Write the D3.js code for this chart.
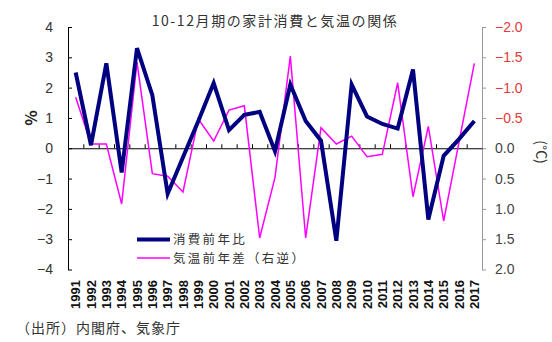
<!DOCTYPE html>
<html>
<head>
<meta charset="utf-8">
<script src="https://cdn.jsdelivr.net/npm/d3@7"></script>
<style>
  body { margin: 0; background: #fff; }
  svg { display: block; }
  text { font-family: "Noto Sans CJK JP", "Noto Sans", sans-serif; }
</style>
</head>
<body>
<svg id="chart" width="552" height="342"></svg>
<script>
const years = ["1991","1992","1993","1994","1995","1996","1997","1998","1999","2000",
  "2001","2002","2003","2004","2005","2006","2007","2008","2009","2010",
  "2011","2012","2013","2014","2015","2016","2017"];
const consumption = [2.5, 0.1, 2.8, -0.8, 3.3, 1.75, -1.5, -0.3, 0.9, 2.15,
  0.6, 1.1, 1.2, -0.1, 2.1, 0.9, 0.25, -3.05, 2.1, 1.05,
  0.8, 0.65, 2.6, -2.35, -0.25, 0.3, 0.9];
const temperature = [-0.84, -0.07, -0.07, 0.92, -1.42, 0.42, 0.46, 0.72, -0.48, -0.12,
  -0.63, -0.7, 1.48, 0.48, -1.52, 1.48, -0.34, -0.07, -0.2, 0.14,
  0.1, -1.08, 0.8, -0.36, 1.2, -0.1, -1.4];
const leftTicks = [4, 3, 2, 1, 0, -1, -2, -3, -4];
const rightTicks = [-2.0, -1.5, -1.0, -0.5, 0.0, 0.5, 1.0, 1.5, 2.0];
const title = "10-12月期の家計消費と気温の関係";
const seriesNames = ["消費前年比", "気温前年差（右逆）"];
const source = "（出所）内閣府、気象庁";

const svg = d3.select("#chart");
const L = 68, R = 482, T = 27, B = 269.5;

const x = d3.scaleBand().domain(years).range([L, R]);
const xi = d3.scaleLinear().domain([0, years.length]).range([L, R]);
const yL = d3.scaleLinear().domain([-4, 4]).range([B, T]);
const yR = d3.scaleLinear().domain([2, -2]).range([B, T]);
const cx = d => x(d) + x.bandwidth() / 2;

// title
svg.append("text").attr("x", 275).attr("y", 26).attr("text-anchor", "middle")
  .style("font-size", "14px").style("letter-spacing", "1.6px").attr("fill", "#333")
  .text(title);

// left axis (ticks inward)
const gl = svg.append("g").attr("transform", `translate(${L},0)`)
  .call(d3.axisLeft(yL).tickValues(leftTicks).tickSizeInner(-4).tickSizeOuter(0)
    .tickPadding(15).tickFormat(d => d < 0 ? "−" + Math.abs(d) : String(d)));
gl.select(".domain").attr("stroke", "#000");
gl.selectAll(".tick line").attr("stroke", "#000");
gl.selectAll(".tick text").style("font-size", "14px").attr("fill", "#333")
  .style("font-family", "'Liberation Sans', Arial, sans-serif");

// right axis
const gr = svg.append("g").attr("transform", `translate(${R},0)`)
  .call(d3.axisRight(yR).tickValues(rightTicks).tickSizeInner(4).tickSizeOuter(0)
    .tickPadding(9).tickFormat(d => d < 0 ? "−" + Math.abs(d).toFixed(1) : d.toFixed(1)));
gr.select(".domain").attr("stroke", "#999");
gr.selectAll(".tick line").attr("stroke", "#999");
gr.selectAll(".tick text").style("font-size", "14px")
  .style("font-family", "'Liberation Sans', Arial, sans-serif")
  .attr("fill", d => d < 0 ? "#e03a3a" : "#444");

// zero line with category ticks pointing up
const gx = svg.append("g").attr("transform", `translate(0,${yL(0)})`)
  .call(d3.axisTop(xi).tickValues(d3.range(1, years.length)).tickSizeInner(4)
    .tickSizeOuter(0).tickFormat(""));
gx.select(".domain").attr("stroke", "#000");
gx.selectAll(".tick line").attr("stroke", "#000");

// year labels
svg.append("g").selectAll("text").data(years).join("text")
  .attr("transform", d => `translate(${cx(d)},280) rotate(-90)`)
  .attr("dy", "0.36em").attr("text-anchor", "end")
  .style("font-size", "13px").style("font-weight", "bold")
  .style("font-family", "'Liberation Sans', Arial, sans-serif")
  .attr("fill", "#111").text(d => d);

// axis titles
svg.append("text").attr("transform", "translate(31,118) rotate(-90)")
  .attr("text-anchor", "middle").attr("dy", "0.35em")
  .style("font-size", "16px").style("font-weight", "bold").attr("fill", "#222").text("%");
svg.append("text").attr("transform", "translate(541,152) rotate(90)")
  .attr("text-anchor", "middle").attr("dy", "0.35em")
  .style("font-size", "14px").attr("fill", "#333").text("(°C)");

// lines
const lineL = d3.line().x((d, i) => cx(years[i])).y(d => yL(d));
const lineR = d3.line().x((d, i) => cx(years[i])).y(d => yR(d));
svg.append("path").datum(temperature).attr("d", lineR)
  .attr("fill", "none").attr("stroke", "#ff00ff").attr("stroke-width", 1.5)
  .attr("stroke-linejoin", "miter");
svg.append("path").datum(consumption).attr("d", lineL)
  .attr("fill", "none").attr("stroke", "#000080").attr("stroke-width", 4)
  .attr("stroke-linejoin", "miter");

// legend
const legend = svg.append("g");
const lg = [{name: seriesNames[0], color: "#000080", w: 4, y: 239.5},
            {name: seriesNames[1], color: "#ff00ff", w: 1.5, y: 258}];
lg.forEach(s => {
  legend.append("line").attr("x1", 137).attr("x2", 170).attr("y1", s.y).attr("y2", s.y)
    .attr("stroke", s.color).attr("stroke-width", s.w);
  legend.append("text").attr("x", 173).attr("y", s.y).attr("dy", "0.36em")
    .style("font-size", "12.5px").style("letter-spacing", "2.3px")
    .attr("fill", "#333").text(s.name);
});

// source
svg.append("text").attr("x", 16).attr("y", 333)
  .style("font-size", "14px").style("letter-spacing", "1px")
  .attr("fill", "#333").text(source);
</script>
</body>
</html>
